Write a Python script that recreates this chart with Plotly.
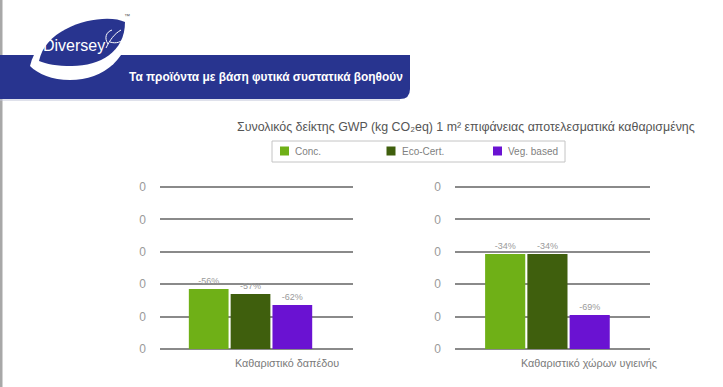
import plotly.graph_objects as go

W, H = 723, 387

categories = ["Καθαριστικό δαπέδου", "Καθαριστικό χώρων υγιεινής"]
series_names = ["Conc.", "Eco-Cert.", "Veg. based"]
series_colors = ["#6fb017", "#3f5f0d", "#6a12d2"]
values_floor = [1.85, 1.70, 1.36]
values_sanitary = [2.93, 2.93, 1.05]
labels_floor = ["-56%", "-57%", "-62%"]
labels_sanitary = ["-34%", "-34%", "-69%"]
tick_vals = [0, 1, 2, 3, 4, 5]
tick_text = ["0", "0", "0", "0", "0", "0"]

title_text = "Συνολικός δείκτης GWP (kg CO₂eq) 1 m² επιφάνειας αποτελεσματικά καθαρισμένης"
banner_text = "Τα προϊόντα με βάση φυτικά συστατικά βοηθούν"

def px(x):
    return x / W

def py(y):
    return 1 - y / H

fig = go.Figure()

panels = [
    ("x", "y", categories[0], values_floor, labels_floor),
    ("x2", "y2", categories[1], values_sanitary, labels_sanitary),
]
for pi, (xa, ya, cat, vals, labs) in enumerate(panels):
    for i, name in enumerate(series_names):
        fig.add_trace(go.Bar(
            x=[cat], y=[vals[i]], name=name,
            marker=dict(color=series_colors[i], line=dict(width=0)),
            text=[labs[i]], textposition="outside",
            textfont=dict(size=9, color="#9a9a9a", family="Liberation Sans"),
            cliponaxis=False,
            showlegend=False, legendgroup=name,
            xaxis=xa, yaxis=ya,
        ))

unit = 32.4
ytop = 5.25
ydom = [py(349), py(349 - ytop * unit)]
axis_y = dict(range=[0, ytop], tickvals=tick_vals, ticktext=tick_text,
              showgrid=True, gridcolor="#8a8a8a", gridwidth=1.5,
              zeroline=True, zerolinecolor="#8a8a8a", zerolinewidth=1.5,
              showline=False, ticks="", ticklabelstandoff=13,
              tickfont=dict(size=12, color="#9a9a9a", family="Liberation Sans"),
              domain=ydom, fixedrange=True, automargin=False)
axis_x = dict(showticklabels=False, showgrid=False, zeroline=False,
              showline=False, ticks="", fixedrange=True, automargin=False)

fig.update_layout(
    width=W, height=H, autosize=False,
    margin=dict(l=0, r=0, t=0, b=0, pad=0),
    paper_bgcolor="white", plot_bgcolor="rgba(0,0,0,0)",
    barmode="group", bargap=0.35, bargroupgap=0.05,
    xaxis=dict(axis_x, domain=[px(160), px(353)], range=[-0.469, 0.531]),
    xaxis2=dict(axis_x, domain=[px(455), px(650)], range=[-0.474, 0.526], anchor="y2"),
    yaxis=dict(axis_y, anchor="x"),
    yaxis2=dict(axis_y, anchor="x2"),
    showlegend=False,
    font=dict(family="Liberation Sans"),
)

shapes = []
ann = []

# left border line
shapes.append(dict(type="rect", xref="paper", yref="paper", x0=0, x1=px(2.5), y0=0, y1=1,
                   fillcolor="#a8a8a8", line=dict(width=0), layer="above"))
# banner with rounded bottom-right corner
bx0, bx1, by0, by1, r = 0, 410, 55, 99, 10
path = (f"M {px(bx0)},{py(by0)} L {px(bx1)},{py(by0)} L {px(bx1)},{py(by1 - r)} "
        f"Q {px(bx1)},{py(by1)} {px(bx1 - r)},{py(by1)} L {px(bx0)},{py(by1)} Z")
shapes.append(dict(type="path", xref="paper", yref="paper", path=path,
                   fillcolor="#28348f", line=dict(width=0)))
shapes.append(dict(type="line", xref="paper", yref="paper", x0=px(0), x1=px(400),
                   y0=py(100), y1=py(100), line=dict(color="#c0c4d8", width=1)))
# logo: white leaf and blue inner leaf
white_leaf = (f"M {px(30)},{py(66)} C {px(40)},{py(22)} {px(106)},{py(6)} {px(131)},{py(19)} "
              f"C {px(131)},{py(58)} {px(104)},{py(80)} {px(70)},{py(80)} "
              f"C {px(52)},{py(80)} {px(38)},{py(74)} {px(30)},{py(66)} Z")
blue_leaf = (f"M {px(39)},{py(61)} C {px(46)},{py(24)} {px(106)},{py(12)} {px(125)},{py(22)} "
             f"C {px(125)},{py(52)} {px(100)},{py(66)} {px(72)},{py(66)} "
             f"C {px(57)},{py(66)} {px(46)},{py(64)} {px(39)},{py(61)} Z")
shapes.append(dict(type="path", xref="paper", yref="paper", path=white_leaf,
                   fillcolor="white", line=dict(width=0)))
shapes.append(dict(type="path", xref="paper", yref="paper", path=blue_leaf,
                   fillcolor="#28348f", line=dict(width=0)))
# small bird mark next to the brand name
bird = (f"M {px(106)},{py(48)} C {px(110)},{py(40)} {px(114)},{py(34)} {px(121)},{py(30)} "
        f"M {px(108)},{py(44)} C {px(104)},{py(38)} {px(106)},{py(32)} {px(112)},{py(30)} "
        f"M {px(110)},{py(42)} C {px(116)},{py(44)} {px(122)},{py(42)} {px(124)},{py(38)}")
shapes.append(dict(type="path", xref="paper", yref="paper", path=bird,
                   line=dict(color="white", width=1)))

# custom legend
lx0, lx1, ly0, ly1 = 272, 565, 141, 162
shapes.append(dict(type="rect", xref="paper", yref="paper", x0=px(lx0), x1=px(lx1),
                   y0=py(ly1), y1=py(ly0), fillcolor="white",
                   line=dict(color="#c4c4c4", width=1)))
for i, name in enumerate(series_names):
    sx = 280 + i * 106.5
    shapes.append(dict(type="rect", xref="paper", yref="paper", x0=px(sx), x1=px(sx + 9),
                       y0=py(155.5), y1=py(146.5), fillcolor=series_colors[i],
                       line=dict(width=0)))
    ann.append(dict(text=name, xref="paper", yref="paper", x=px(sx + 13), y=py(151),
                    xanchor="left", yanchor="middle", showarrow=False,
                    font=dict(size=10, color="#7f7f7f", family="Liberation Sans")))

fig.update_layout(shapes=shapes)

ann.append(dict(text="Diversey", xref="paper", yref="paper", x=px(74), y=py(46),
                xanchor="center", yanchor="middle", showarrow=False,
                font=dict(size=16, color="white", family="Liberation Sans")))
ann.append(dict(text="™", xref="paper", yref="paper", x=px(127), y=py(16),
                xanchor="center", yanchor="middle", showarrow=False,
                font=dict(size=6, color="#555", family="Liberation Sans")))
ann.append(dict(text=f"<b>{banner_text}</b>", xref="paper", yref="paper", x=px(127), y=py(77),
                xanchor="left", yanchor="middle", showarrow=False,
                font=dict(size=11.9, color="white", family="Liberation Sans")))
ann.append(dict(text=title_text, xref="paper", yref="paper", x=px(466), y=py(127),
                xanchor="center", yanchor="middle", showarrow=False,
                font=dict(size=12.4, color="#555555", family="Liberation Sans")))
ann.append(dict(text=categories[0], xref="x", yref="paper", x=categories[0], y=py(363),
                xshift=36, xanchor="center", yanchor="middle", showarrow=False,
                font=dict(size=10.8, color="#7a7a7a", family="Liberation Sans")))
ann.append(dict(text=categories[1], xref="x2", yref="paper", x=categories[1], y=py(363),
                xshift=42, xanchor="center", yanchor="middle", showarrow=False,
                font=dict(size=10.8, color="#7a7a7a", family="Liberation Sans")))
fig.update_layout(annotations=ann)

post = ("document.body.style.margin='0';document.body.style.overflow='hidden';"
        "var gd=document.getElementById('{plot_id}');"
        "Plotly.relayout(gd,{width:%d,height:%d});" % (W, H))
fig.write_html("out.html", post_script=post, config={"displayModeBar": False})
